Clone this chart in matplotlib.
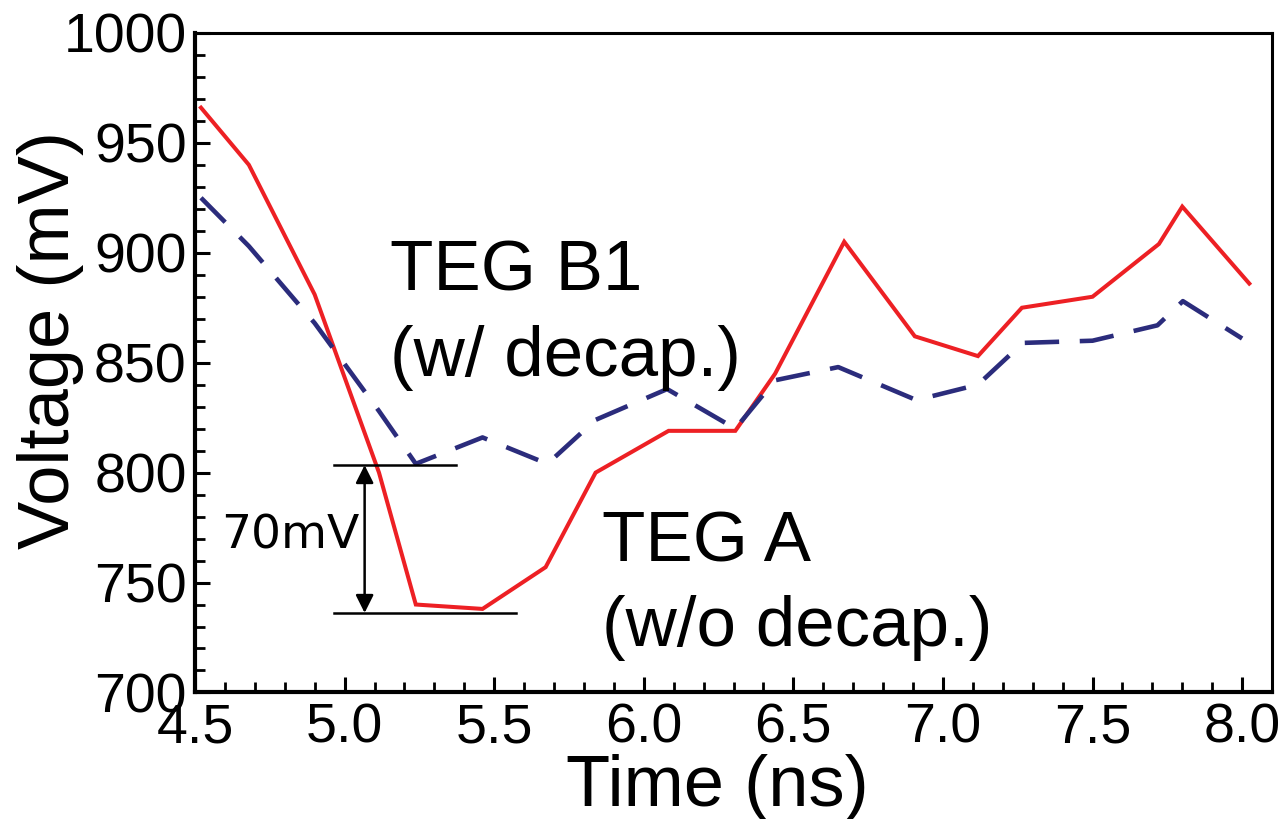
import matplotlib
matplotlib.use("Agg")
import matplotlib.pyplot as plt
from matplotlib.ticker import MultipleLocator, FormatStrFormatter

plt.rcParams['font.family'] = ['Liberation Sans', 'DejaVu Sans']

# TEG A (w/o decap.) - red solid
time_a = [4.52, 4.68, 4.90, 5.115, 5.238, 5.461, 5.672, 5.839, 6.083, 6.306,
          6.439, 6.67, 6.906, 7.117, 7.264, 7.50, 7.722, 7.80, 8.024]
volt_a = [966, 940, 881, 800, 740, 738, 757, 800, 819, 819,
          845, 905, 862, 853, 875, 880, 904, 921, 886]

# TEG B1 (w/ decap.) - navy dashed
time_b1 = [4.52, 4.68, 4.90, 5.115, 5.238, 5.461, 5.678, 5.839, 6.078, 6.306,
           6.439, 6.65, 6.911, 7.117, 7.267, 7.50, 7.717, 7.802, 8.0]
volt_b1 = [925, 903, 868, 828, 804, 816, 804, 824, 838, 820,
           842, 848, 833, 840, 859, 860, 867, 878, 861]

# 70 mV drop marker
drop_top = 803.4
drop_bottom = 736.2
drop_x = 5.067

red = '#ED2024'
navy = '#2B2C7C'

fig = plt.figure(figsize=(12.88, 8.19), dpi=100)
ax = fig.add_axes([0.1514, 0.1545, 0.8362, 0.8053])

ax.plot(time_a, volt_a, color=red, lw=2.9, solid_joinstyle='miter')
ax.plot(time_b1, volt_b1, color=navy, lw=3.3, dashes=(7.5, 4.5))

# bracket lines and arrow
ax.plot([4.964, 5.372], [drop_top, drop_top], color='k', lw=1.8)
ax.plot([4.964, 5.572], [drop_bottom, drop_bottom], color='k', lw=1.8)
ax.annotate('', xy=(drop_x, drop_bottom), xytext=(drop_x, drop_top),
            arrowprops=dict(arrowstyle='<|-|>', color='k', lw=1.8,
                            mutation_scale=27, shrinkA=0, shrinkB=0))
ax.text(5.05, 771.3, '70mV', fontsize=34, family='DejaVu Sans',
        ha='right', va='center')

# series labels
ax.text(5.151, 883, 'TEG B1', fontsize=51, ha='left', va='baseline')
ax.text(5.151, 844, '(w/ decap.)', fontsize=51, ha='left', va='baseline')
ax.text(5.86, 759.7, 'TEG A', fontsize=51, ha='left', va='baseline')
ax.text(5.86, 721, '(w/o decap.)', fontsize=51, ha='left', va='baseline')

ax.set_xlim(4.5, 8.1)
ax.set_ylim(700, 1000)
ax.xaxis.set_major_locator(MultipleLocator(0.5))
ax.xaxis.set_minor_locator(MultipleLocator(0.1))
ax.yaxis.set_major_locator(MultipleLocator(50))
ax.yaxis.set_minor_locator(MultipleLocator(10))
ax.xaxis.set_major_formatter(FormatStrFormatter('%.1f'))

ax.tick_params(which='both', direction='in', top=False, right=False)
ax.tick_params(which='major', length=11, width=2.2, labelsize=40)
ax.tick_params(axis='x', which='major', pad=7)
ax.tick_params(axis='y', which='major', pad=6)
ax.tick_params(which='minor', length=7, width=2)

for side in ['left', 'bottom']:
    ax.spines[side].set_linewidth(3)
for side in ['top', 'right']:
    ax.spines[side].set_linewidth(2.2)

fig.text(717 / 1288, 1 - 806 / 819, 'Time (ns)', fontsize=52,
         ha='center', va='baseline')
fig.text(51 / 1288, 1 - 340 / 819, 'Voltage (mV)', fontsize=52,
         rotation=90, ha='center', va='center')

fig.savefig('out.png', dpi=100)
